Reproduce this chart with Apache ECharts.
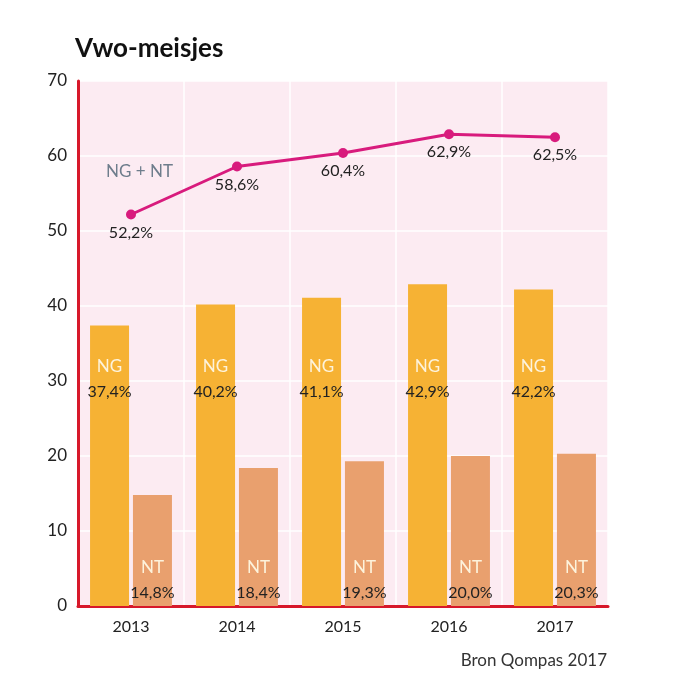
<!DOCTYPE html>
<html>
<head>
<meta charset="utf-8">
<script src="https://cdn.jsdelivr.net/npm/echarts@6/dist/echarts.min.js"></script>
<style>
  html, body { margin: 0; padding: 0; background: #fff; }
  #chart { width: 679px; height: 677px; }
</style>
</head>
<body>
<div id="chart"></div>
<script>
const years = ['2013', '2014', '2015', '2016', '2017'];
const ngValues = [37.4, 40.2, 41.1, 42.9, 42.2];
const ntValues = [14.8, 18.4, 19.3, 20.0, 20.3];
const totalValues = [52.2, 58.6, 60.4, 62.9, 62.5];

const font = 'Lato, "Noto Sans", sans-serif';
const pct = v => v.toFixed(1).replace('.', ',') + '%';

const chart = echarts.init(document.getElementById('chart'));

function barLabel(name, lift) {
  return {
    show: true,
    position: 'insideBottom',
    offset: [0, -lift],
    fontFamily: font,
    formatter: p => '{n|' + name + '}\n{v|' + pct(p.value) + '}',
    rich: {
      n: { color: '#fdf3dc', fontSize: 17, lineHeight: 25, fontFamily: font },
      v: { color: '#222', fontSize: 16, lineHeight: 25, fontFamily: font }
    }
  };
}

const option = {
  backgroundColor: '#fff',
  animation: false,
  textStyle: { fontFamily: font },
  title: {
    text: 'Vwo-meisjes',
    left: 70,
    top: 31,
    textStyle: { fontFamily: font, fontSize: 26, fontWeight: 'bold', color: '#111' }
  },
  graphic: [
    {
      type: 'text',
      right: 72,
      top: 652,
      style: { text: 'Bron Qompas 2017', fontFamily: font, fontSize: 17, fill: '#333' }
    },
    {
      type: 'text',
      left: 106,
      top: 163,
      style: { text: 'NG + NT', fontFamily: font, fontSize: 17, fill: '#6e7d8c' }
    }
  ],
  grid: {
    left: 78,
    right: 71,
    top: 81,
    bottom: 71,
    show: true,
    backgroundColor: '#fcebf2',
    borderWidth: 0
  },
  xAxis: {
    type: 'category',
    data: years,
    axisLine: { lineStyle: { color: '#d7182a', width: 3 } },
    axisTick: { show: false },
    axisLabel: { color: '#222', fontSize: 16, margin: 13, fontFamily: font },
    splitLine: { show: true, lineStyle: { color: '#fff', width: 1.5 } }
  },
  yAxis: {
    type: 'value',
    min: 0,
    max: 70,
    interval: 10,
    axisLine: { show: true, lineStyle: { color: '#d7182a', width: 3 } },
    axisTick: { show: false },
    axisLabel: { color: '#222', fontSize: 17, margin: 11, fontFamily: font },
    splitLine: { lineStyle: { color: '#fff', width: 1.5 } }
  },
  series: [
    {
      name: 'NG',
      type: 'bar',
      data: ngValues,
      barWidth: 39,
      barGap: '10%',
      itemStyle: { color: '#f6b234' },
      label: barLabel('NG', 197)
    },
    {
      name: 'NT',
      type: 'bar',
      data: ntValues,
      barWidth: 39,
      itemStyle: { color: '#e9a06e' },
      label: barLabel('NT', -4)
    },
    {
      name: 'NG + NT',
      type: 'line',
      data: totalValues,
      symbol: 'circle',
      symbolSize: 10,
      lineStyle: { color: '#d81b7d', width: 3 },
      itemStyle: { color: '#d81b7d' },
      label: {
        show: true,
        position: 'bottom',
        distance: 5,
        color: '#222',
        fontSize: 16,
        fontFamily: font,
        formatter: p => pct(p.value)
      },
      z: 5
    }
  ]
};

chart.setOption(option);
</script>
</body>
</html>
